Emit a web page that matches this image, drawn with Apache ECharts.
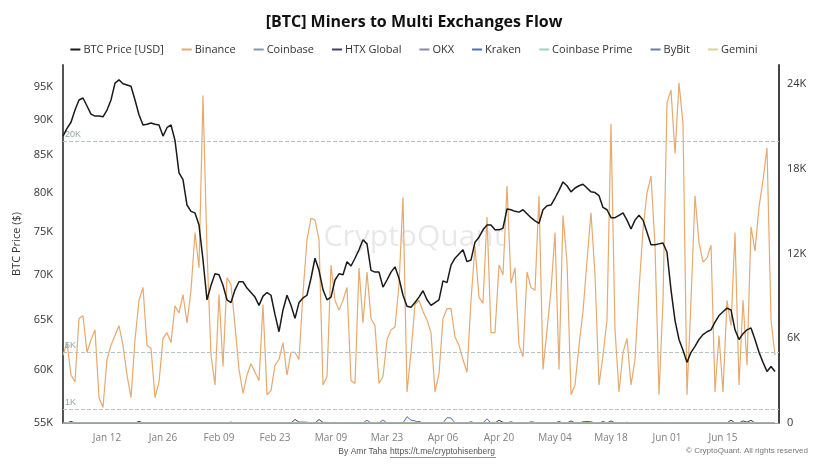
<!DOCTYPE html>
<html><head><meta charset="utf-8">
<script src="https://cdn.jsdelivr.net/npm/echarts@6/dist/echarts.min.js"></script>
<style>html,body{margin:0;padding:0;background:#fff}#c{width:828px;height:466px}</style>
</head><body><div id="c"></div>
<script>
// ---- data ----
const startYear = 2025, startMonth = 0, startDay = 1, dayCount = 180;
const monthNames = ['Jan','Feb','Mar','Apr','May','Jun','Jul','Aug','Sep','Oct','Nov','Dec'];

const btcPrice = [87700, 88800, 89700, 91500, 93000, 93300, 92100, 90900, 90600, 90600,
90500, 91500, 93000, 95600, 96100, 95500, 95300, 95100, 93000, 90800,
89300, 89400, 89600, 89400, 89300, 87700, 88900, 89300, 87100, 82600,
81700, 78400, 77600, 77400, 75900, 71700, 67200, 68800, 70100, 70000,
68800, 67200, 66900, 68300, 69200, 69200, 68500, 68000, 67500, 66600,
67600, 68000, 67700, 65600, 63800, 66100, 67700, 66600, 65200, 66900,
67400, 67700, 69600, 71900, 70500, 68300, 67200, 67500, 69400, 70100,
70000, 71500, 71000, 71900, 72900, 74100, 73600, 70500, 70300, 70300,
68600, 69400, 70300, 70900, 69600, 67700, 66500, 66400, 66900, 67500,
68200, 67200, 66600, 66900, 67200, 69300, 69100, 71100, 71900, 72400,
72900, 71500, 71700, 73800, 74400, 75300, 75900, 75900, 75300, 75300,
75500, 77900, 77800, 77600, 77500, 77800, 77300, 76800, 76400, 76100,
77800, 78300, 78400, 79300, 80300, 81400, 80900, 80100, 80600, 80900,
81100, 80600, 80100, 80000, 79600, 78100, 77800, 76800, 76800, 77100,
77400, 76500, 75400, 76500, 77100, 76500, 75000, 73500, 73500, 73600,
73700, 72600, 68300, 65000, 63000, 61900, 60700, 61700, 62300, 63000,
63500, 63800, 64000, 64800, 65500, 65900, 66300, 66100, 64000, 63000,
63600, 64000, 64200, 63000, 61700, 60700, 59800, 60300, 59800];

const binance = [4800, 5700, 3400, 2900, 7400, 7600, 5000, 5900, 6600, 1800,
1100, 4500, 5500, 6200, 6900, 5500, 3400, 1800, 5900, 8700,
9600, 5500, 5300, 1800, 2900, 6000, 6400, 5700, 8300, 7800,
9100, 7100, 9400, 13500, 11000, 23200, 12200, 4800, 2700, 9100,
4000, 10300, 9800, 6900, 3800, 2100, 3400, 4200, 3600, 3000,
8400, 2000, 2300, 4100, 4500, 5700, 3400, 5000, 5000, 4500,
9200, 13000, 14500, 14400, 13000, 2700, 3300, 11200, 8700, 8000,
8700, 9600, 3000, 2800, 11000, 7100, 10700, 7400, 6900, 2800,
3300, 5900, 6600, 6800, 9800, 16000, 2200, 5000, 8400, 8700,
7900, 7300, 6400, 2200, 3500, 7400, 8100, 8100, 6100, 5500,
4500, 3600, 8700, 12500, 8900, 8500, 14600, 6400, 6400, 11200,
10500, 16800, 9900, 11000, 5500, 4700, 10700, 9600, 9400, 16100,
3800, 6600, 9400, 13500, 3800, 14700, 11400, 2000, 2700, 5500,
7900, 11500, 14900, 10500, 2700, 4800, 7300, 21200, 6600, 2200,
5000, 6000, 2700, 4500, 9400, 13700, 16300, 17500, 12600, 2000,
8700, 22700, 23600, 19100, 24100, 21200, 2000, 8700, 16100, 12800,
11400, 11700, 12600, 2200, 6200, 2200, 8700, 6900, 13500, 2700,
8700, 4100, 13900, 12200, 15300, 17200, 19500, 7300, 4800];

const htxGlobal = [0,0,120,0,0,0,0,0,0,0,
0,0,0,0,0,0,0,0,0,120,
0,0,0,0,0,0,0,0,0,0,
0,0,0,0,0,0,0,0,0,0,
0,0,60,0,0,0,0,0,0,0,
0,0,0,0,0,0,0,0,250,60,
60,50,0,0,250,40,40,30,40,30,
20,0,0,0,0,0,0,0,0,0,
0,40,0,0,0,0,0,0,0,100,
0,0,0,0,0,0,0,0,0,0,
0,0,80,0,0,0,0,0,0,200,
50,0,80,0,0,0,0,80,40,0,
0,0,0,0,100,0,0,150,0,0,
80,100,80,0,0,100,0,150,0,0,
0,50,0,0,0,0,0,0,0,0,
0,30,0,0,0,0,0,0,0,0,
0,0,0,0,0,0,0,200,0,0,
150,60,200,0,0,0,0,0,0];

const kraken = [0,0,0,0,0,0,0,0,0,0,
0,0,0,0,0,0,0,0,0,0,
0,0,0,0,0,0,0,0,0,0,
0,0,0,0,0,0,0,0,0,0,
0,0,0,0,0,0,0,0,0,0,
0,0,0,0,0,0,0,0,0,0,
0,0,0,0,0,0,0,0,0,0,
0,0,0,0,0,0,200,0,0,0,
220,0,0,0,0,0,450,200,150,0,
0,0,0,0,0,0,380,350,0,0,
0,0,0,0,0,0,300,0,0,0,
0,0,0,0,0,0,0,0,0,0,
0,0,0,0,0,0,0,0,0,0,
0,0,0,0,0,0,0,0,0,0,
0,0,0,0,0,0,0,0,0,0,
0,0,0,0,0,0,0,0,0,0,
0,0,0,0,0,0,0,0,0,0,
0,0,0,0,0,0,0,0,0];

const zeroFlow = [0,0,0,0,0,0,0,0,0,0,0,0,0,0,0,0,0,0,0,0,0,0,0,0,0,0,0,0,0,0,
0,0,0,0,0,0,0,0,0,0,0,0,0,0,0,0,0,0,0,0,0,0,0,0,0,0,0,0,0,0,
0,0,0,0,0,0,0,0,0,0,0,0,0,0,0,0,0,0,0,0,0,0,0,0,0,0,0,0,0,0,
0,0,0,0,0,0,0,0,0,0,0,0,0,0,0,0,0,0,0,0,0,0,0,0,0,0,0,0,0,0,
0,0,0,0,0,0,0,0,0,0,0,0,0,0,0,0,0,0,0,0,0,0,0,0,0,0,0,0,0,0,
0,0,0,0,0,0,0,0,0,0,0,0,0,0,0,0,0,0,0,0,0,0,0,0,0,0,0,0,0];

const coinbase = zeroFlow, okx = zeroFlow, coinbasePrime = zeroFlow, bybit = zeroFlow, gemini = zeroFlow;

const leftTicks = [55000, 60000, 65000, 70000, 75000, 80000, 85000, 90000, 95000];
const rightTicks = [0, 6000, 12000, 18000, 24000];
const refLines = [1000, 5000, 20000];

// ---- categories ----
const categories = [];
for (let i = 0; i < dayCount; i++) {
  const d = new Date(Date.UTC(startYear, startMonth, startDay + i));
  categories.push(monthNames[d.getUTCMonth()] + ' ' + String(d.getUTCDate()).padStart(2, '0'));
}

const kfmt = v => v === 0 ? '0' : Math.round(v / 1000) + 'K';

const chart = echarts.init(document.getElementById('c'), null, {renderer: 'canvas'});

function flowSeries(name, data, color, width) {
  return {
    name, type: 'line', yAxisIndex: 1, data, symbol: 'none', smooth: false,
    lineStyle: {color, width: width || 1}, itemStyle: {color}, z: 2
  };
}

const binanceSeries = flowSeries('Binance', binance, '#e7a96d', 1.2);
binanceSeries.markLine = {
  silent: true, symbol: 'none',
  lineStyle: {type: 'dashed', color: '#b9c2c2', width: 1},
  label: {position: 'insideStartTop', formatter: p => kfmt(p.value), color: '#94a8a8', fontSize: 9, distance: 2},
  data: refLines.map(v => ({yAxis: v}))
};

chart.setOption({
  animation: false,
  backgroundColor: '#fff',
  title: {
    text: '[BTC] Miners to Multi Exchanges Flow', left: 'center', top: 9,
    textStyle: {fontFamily: 'Open Sans', fontWeight: 'bold', fontSize: 16, color: '#111'}
  },
  legend: {
    top: 39, left: 'center', itemGap: 18, itemWidth: 10, itemHeight: 2, icon: 'rect',
    textStyle: {fontFamily: 'Open Sans', fontSize: 11, color: '#333', padding: [0, 0, 0, -2]},
    data: ['BTC Price [USD]', 'Binance', 'Coinbase', 'HTX Global', 'OKX', 'Kraken', 'Coinbase Prime', 'ByBit', 'Gemini']
  },
  grid: {left: 63, right: 49, top: 65, bottom: 43},
  xAxis: {
    type: 'category', data: categories, boundaryGap: false,
    axisLine: {show: true, lineStyle: {color: '#9aa0aa', width: 1}},
    axisTick: {show: false},
    axisLabel: {
      interval: (idx) => idx >= 11 && idx < dayCount - 1 && (idx - 11) % 14 === 0,
      color: '#808080', fontFamily: 'Open Sans', fontSize: 10, margin: 10
    },
    splitLine: {show: false}
  },
  yAxis: [{
    type: 'log', logBase: 10, min: 55000, max: 98450,
    name: 'BTC Price ($)', nameLocation: 'middle', nameGap: 30, nameRotate: 90,
    nameTextStyle: {fontFamily: 'Open Sans', fontSize: 11, color: '#333'},
    axisLine: {show: true, lineStyle: {color: '#555', width: 2}},
    axisTick: {show: false},
    splitLine: {show: false},
    axisLabel: {customValues: leftTicks, formatter: kfmt, color: '#333', fontFamily: 'Open Sans', fontSize: 11, margin: 10}
  }, {
    type: 'value', min: 0, max: 25370, interval: 6000, position: 'right',
    axisLine: {show: true, lineStyle: {color: '#444', width: 2}},
    axisTick: {show: false},
    splitLine: {show: false},
    axisLabel: {customValues: rightTicks, formatter: kfmt, color: '#333', fontFamily: 'Open Sans', fontSize: 11, margin: 8}
  }],
  graphic: [
    {type: 'text', left: 'center', top: 222, z: 0, silent: true,
     style: {text: 'CryptoQuant', fontFamily: 'Open Sans', fontSize: 30, fill: 'rgba(0,0,0,0.09)'}},
    {type: 'text', x: 387, y: 452, style: {text: 'By Amr Taha', textAlign: 'right', textVerticalAlign: 'middle', fontFamily: 'Liberation Sans', fontSize: 8.5, fill: '#555'}},
    {type: 'text', x: 390, y: 452, style: {text: 'https://t.me/cryptohisenberg', textAlign: 'left', textVerticalAlign: 'middle', fontFamily: 'Liberation Sans', fontSize: 8.5, fill: '#555'}},
    {type: 'line', shape: {x1: 390, y1: 457.5, x2: 496, y2: 457.5}, style: {stroke: '#777', lineWidth: 0.8}},
    {type: 'text', right: 20, top: 447, style: {text: '© CryptoQuant. All rights reserved', fontFamily: 'Liberation Sans', fontSize: 8, fill: '#777'}}
  ],
  series: [
    {name: 'BTC Price [USD]', type: 'line', yAxisIndex: 0, data: btcPrice, symbol: 'none',
     lineStyle: {color: '#1a1a1a', width: 1.5}, itemStyle: {color: '#1a1a1a'}, z: 5},
    binanceSeries,
    flowSeries('Coinbase', coinbase, '#8796ad'),
    flowSeries('HTX Global', htxGlobal, '#3d4463'),
    flowSeries('OKX', okx, '#8a8aa3'),
    flowSeries('Kraken', kraken, '#4f6fb8'),
    flowSeries('Coinbase Prime', coinbasePrime, '#9fd0cc'),
    flowSeries('ByBit', bybit, '#6f7d96'),
    flowSeries('Gemini', gemini, '#d9d59a')
  ]
});
</script>
</body></html>
